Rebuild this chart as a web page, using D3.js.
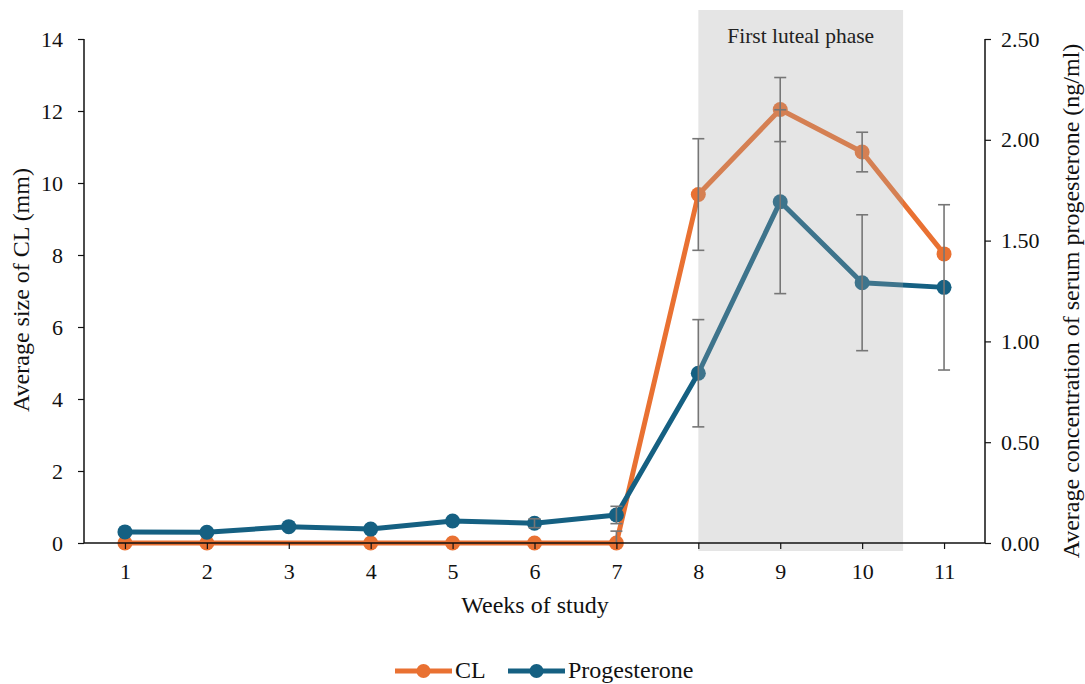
<!DOCTYPE html>
<html>
<head>
<meta charset="utf-8">
<script src="https://cdn.jsdelivr.net/npm/d3@7"></script>
<style>
  html, body { margin: 0; padding: 0; background: #fff; }
  svg { display: block; }
  svg text { font-family: "Liberation Serif", "DejaVu Serif", serif !important; }
</style>
</head>
<body>
<svg id="chart" width="1085" height="684"></svg>
<script>
// Weeks of study
const weeks = [1, 2, 3, 4, 5, 6, 7, 8, 9, 10, 11];
// Average CL size (mm); week 3 has no recorded value
const clSize = [0, 0, null, 0, 0, 0, 0, 9.68, 12.04, 10.86, 8.03];
const clErr  = [0, 0, 0, 0, 0, 0, 0.33, 1.55, 0.89, 0.55, 0];
// Average serum progesterone (ng/ml)
const progesterone = [0.055, 0.053, 0.081, 0.069, 0.109, 0.098, 0.139, 0.842, 1.693, 1.291, 1.268];
const progErr      = [0, 0, 0, 0, 0, 0.022, 0.043, 0.266, 0.456, 0.337, 0.41];
// Luteal phase window (weeks)
const lutealStart = 8, lutealEnd = 10.5;
const leftTicks = [0, 2, 4, 6, 8, 10, 12, 14];
const rightTicks = [0, 0.5, 1, 1.5, 2, 2.5];

const ORANGE = "#E97132", BLUE = "#156082", ERR = "#767676";

const svg = d3.select("#chart");
const x = d3.scaleLinear().domain([0.5, 11.5]).range([84, 985]);
const yL = d3.scaleLinear().domain([0, 14]).range([543, 39]);
const yR = d3.scaleLinear().domain([0, 2.5]).range([543, 39]);

svg.append("defs").append("clipPath").attr("id", "plotClip")
  .append("rect").attr("x", 84).attr("y", 0).attr("width", 901).attr("height", 543);

const clData = weeks.map((w, i) => ({ w, v: clSize[i], e: clErr[i] })).filter(d => d.v !== null);
const prData = weeks.map((w, i) => ({ w, v: progesterone[i], e: progErr[i] }));

const lineL = d3.line().x(d => x(d.w)).y(d => yL(d.v));
const lineR = d3.line().x(d => x(d.w)).y(d => yR(d.v));

// Series lines and markers
const series = svg.append("g");
series.append("path").datum(clData).attr("d", lineL)
  .attr("fill", "none").attr("stroke", ORANGE).attr("stroke-width", 5).attr("stroke-linejoin", "round");
series.selectAll("circle.cl").data(clData).join("circle").attr("class", "cl")
  .attr("cx", d => x(d.w)).attr("cy", d => yL(d.v)).attr("r", 7.5).attr("fill", ORANGE);
series.append("path").datum(prData).attr("d", lineR)
  .attr("fill", "none").attr("stroke", BLUE).attr("stroke-width", 5).attr("stroke-linejoin", "round");
series.selectAll("circle.pr").data(prData).join("circle").attr("class", "pr")
  .attr("cx", d => x(d.w)).attr("cy", d => yR(d.v)).attr("r", 7.5).attr("fill", BLUE);

// Shaded luteal phase band, laid over the series
svg.append("rect")
  .attr("x", x(lutealStart)).attr("y", 10)
  .attr("width", x(lutealEnd) - x(lutealStart)).attr("height", 541)
  .attr("fill", "#a6a6a6").attr("fill-opacity", 0.29);
svg.append("text")
  .attr("x", (x(lutealStart) + x(lutealEnd)) / 2).attr("y", 43)
  .attr("text-anchor", "middle").attr("font-size", 21.5).attr("fill", "#222")
  .text("First luteal phase");

// Error bars
function errorBars(data, yScale) {
  const g = svg.append("g").attr("clip-path", "url(#plotClip)")
    .attr("stroke", ERR).attr("stroke-width", 1.6);
  data.filter(d => d.e > 0).forEach(d => {
    const cx = x(d.w), y0 = yScale(d.v - d.e), y1 = yScale(d.v + d.e);
    g.append("line").attr("x1", cx).attr("x2", cx).attr("y1", y0).attr("y2", y1);
    g.append("line").attr("x1", cx - 6).attr("x2", cx + 6).attr("y1", y0).attr("y2", y0);
    g.append("line").attr("x1", cx - 6).attr("x2", cx + 6).attr("y1", y1).attr("y2", y1);
  });
}
errorBars(clData, yL);
errorBars(prData, yR);

// Axes
const axL = svg.append("g").attr("transform", "translate(84,0)")
  .call(d3.axisLeft(yL).tickValues(leftTicks).tickSize(6).tickPadding(15).tickFormat(d3.format("d")));
const axR = svg.append("g").attr("transform", "translate(985,0)")
  .call(d3.axisRight(yR).tickValues(rightTicks).tickSize(6).tickPadding(10).tickFormat(d3.format(".2f")));
const axX = svg.append("g").attr("transform", "translate(0,543)")
  .call(d3.axisBottom(x).tickValues(weeks).tickSize(6).tickPadding(14).tickFormat(d3.format("d")));

[axL, axR, axX].forEach(a => {
  a.attr("font-family", null).attr("font-size", null);
  a.select(".domain").attr("stroke", "#111").attr("stroke-width", 1.5);
  a.selectAll(".tick line").attr("stroke", "#111").attr("stroke-width", 1.2);
  a.selectAll("text").style("font-size", "22px").attr("fill", "#111");
});
axR.select(".domain").attr("d", "M0,39V543");
axL.select(".domain").attr("d", "M0,39V543");
axX.select(".domain").attr("d", "M84,0H985");

// Axis titles
svg.append("text")
  .attr("transform", "translate(29,290) rotate(-90)")
  .attr("text-anchor", "middle").attr("font-size", 24).attr("fill", "#111")
  .text("Average size of CL (mm)");
svg.append("text")
  .attr("transform", "translate(1079,301) rotate(-90)")
  .attr("text-anchor", "middle").attr("font-size", 24).attr("fill", "#111")
  .text("Average concentration of serum progesterone (ng/ml)");
svg.append("text")
  .attr("x", 535).attr("y", 613)
  .attr("text-anchor", "middle").attr("font-size", 24).attr("fill", "#111")
  .text("Weeks of study");

// Legend
const legendItems = [
  { name: "CL", color: ORANGE, x0: 395 },
  { name: "Progesterone", color: BLUE, x0: 508 }
];
const lg = svg.append("g");
legendItems.forEach(it => {
  lg.append("line").attr("x1", it.x0).attr("x2", it.x0 + 57).attr("y1", 671).attr("y2", 671)
    .attr("stroke", it.color).attr("stroke-width", 5);
  lg.append("circle").attr("cx", it.x0 + 28.5).attr("cy", 671).attr("r", 7).attr("fill", it.color);
  lg.append("text").attr("x", it.x0 + 60).attr("y", 678)
    .attr("font-size", 24).attr("fill", "#111").text(it.name);
});
</script>
</body>
</html>
